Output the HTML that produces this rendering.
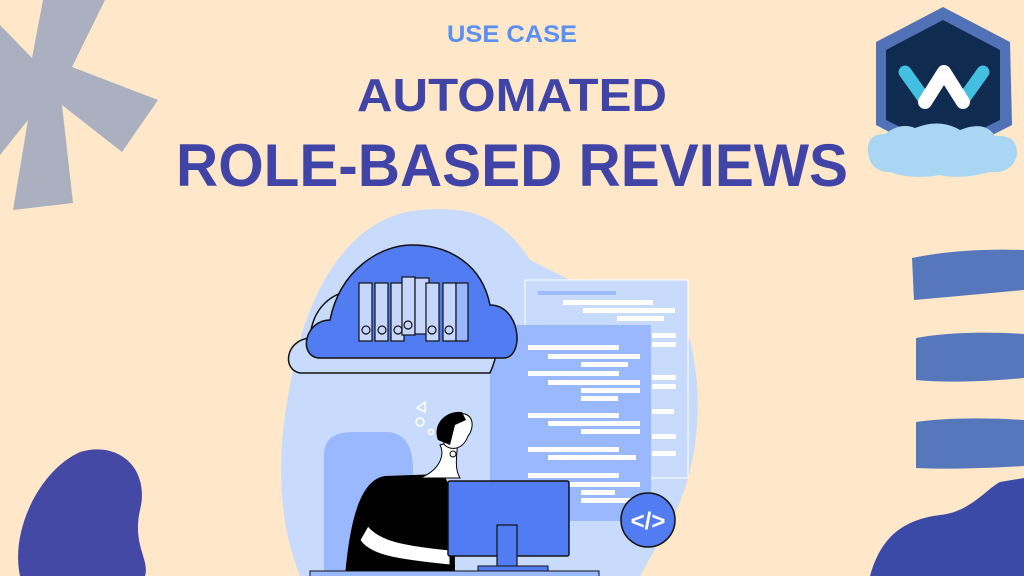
<!DOCTYPE html>
<html><head><style>
html,body{margin:0;padding:0;background:#fee8c9;}
svg{display:block}
text{font-family:"Liberation Sans",sans-serif;font-weight:bold}
</style></head><body>
<svg width="1024" height="576" viewBox="0 0 1024 576" xmlns="http://www.w3.org/2000/svg">
<rect width="1024" height="576" fill="#fee8c9"/>
<!-- asterisk -->
<polygon points="43,0 105,0 72,67 158,100 122,152 62,105 73,203 13,210 28,120 0,155 0,25 32,58" fill="#abb0c1"/>
<!-- right stripes -->
<g fill="#5677bc">
<path d="M912,258 Q960,248 1024,250 L1024,290 Q960,296 914,300 Z"/>
<path d="M916,338 Q960,330 1024,334 L1024,378 Q960,384 916,380 Z"/>
<path d="M916,422 Q960,416 1024,420 L1024,466 Q960,470 916,468 Z"/>
</g>
<!-- bottom blobs -->
<path d="M20,576 C10,530 40,470 80,452 C120,440 150,470 140,510 C132,545 150,560 145,576 Z" fill="#4549a6"/>
<path d="M870,576 C880,540 900,520 940,515 C970,512 985,490 1000,482 L1024,478 L1024,576 Z" fill="#3a4aa6"/>
<!-- title -->
<text x="512" y="42" font-size="24" fill="#5b8ff0" text-anchor="middle" textLength="130" lengthAdjust="spacingAndGlyphs">USE CASE</text>
<text x="512" y="111" font-size="46" fill="#3f44a6" text-anchor="middle" textLength="310" lengthAdjust="spacingAndGlyphs">AUTOMATED</text>
<text x="512" y="186" font-size="60" fill="#3f44a6" text-anchor="middle" textLength="672" lengthAdjust="spacingAndGlyphs">ROLE-BASED REVIEWS</text>
<!-- logo -->
<polygon points="943,7 1010,42 1012,125 943,160 876,125 876,42" fill="#5272b8"/>
<polygon points="943,20 1000,50 1000,120 943,148 886,120 886,50" fill="#0f2b50"/>
<path d="M868,152 Q866,134 885,134 Q900,122 915,128 Q940,118 960,130 Q985,120 995,136 Q1018,134 1017,155 Q1012,174 990,172 Q960,180 940,175 Q910,180 890,172 Q870,172 868,152Z" fill="#a9d6f3"/>
<path d="M905,72 L925,100" stroke="#43c0e0" stroke-width="13" stroke-linecap="round"/>
<path d="M983,72 L963,100" stroke="#43c0e0" stroke-width="13" stroke-linecap="round"/>
<path d="M925,102 L944,72 L963,102" stroke="#fff" stroke-width="14" stroke-linecap="round" stroke-linejoin="round" fill="none"/>
<!-- illustration blob -->
<path d="M300,576 C270,500 280,420 300,340 C320,270 360,215 420,210 C470,206 500,215 530,260 L690,340 C705,400 700,480 660,540 L640,576 Z" fill="#c9dbfd"/>
<!-- code panels -->
<rect x="525" y="280" width="163" height="198" fill="#c9dbfd" stroke="#fff" stroke-width="1"/>
<g fill="#fff"><rect x="563" y="300" width="90" height="5"/><rect x="583" y="308" width="92" height="5"/><rect x="617" y="316" width="47" height="5"/></g>
<rect x="538" y="291" width="78" height="4" fill="#9dbcfd"/>
<rect x="490" y="325" width="161" height="196" fill="#99b8fd"/>
<g fill="#fff">
<rect x="528" y="345" width="91" height="5"/><rect x="548" y="354" width="92" height="5"/><rect x="581" y="362" width="47" height="5"/>
<rect x="528" y="371" width="91" height="5"/><rect x="548" y="380" width="92" height="5"/><rect x="581" y="388" width="59" height="5"/><rect x="581" y="396" width="37" height="5"/>
<rect x="528" y="413" width="91" height="5"/><rect x="548" y="421" width="92" height="5"/><rect x="581" y="429" width="59" height="5"/>
<rect x="528" y="447" width="91" height="5"/><rect x="548" y="455" width="88" height="5"/>
<rect x="528" y="473" width="91" height="5"/><rect x="548" y="482" width="92" height="5"/><rect x="581" y="490" width="34" height="5"/><rect x="581" y="498" width="59" height="5"/>
<rect x="652" y="333" width="24" height="5"/><rect x="652" y="342" width="24" height="5"/><rect x="652" y="375" width="24" height="5"/><rect x="652" y="384" width="24" height="5"/><rect x="652" y="409" width="22" height="5"/><rect x="652" y="434" width="24" height="5"/><rect x="652" y="451" width="24" height="5"/>
</g>
<!-- cloud -->
<path d="M300,373 C282,370 285,340 310,338 C312,310 330,290 360,290 C380,260 440,260 470,290 C500,300 505,340 490,373 Z" fill="#c9dbfd" stroke="#111" stroke-width="1.5"/>
<path d="M318,358 C298,355 305,320 330,320 C340,270 380,245 412,245 C450,245 482,265 490,305 C520,305 525,355 505,358 Z" fill="#527cf2" stroke="#111" stroke-width="1.5"/>
<g fill="#c6d6fd" stroke="#111" stroke-width="1.2">
<rect x="359" y="283" width="13" height="58"/><rect x="375" y="283" width="13" height="58"/><rect x="391" y="283" width="13" height="58"/>
<rect x="402" y="277" width="13" height="58"/><rect x="415" y="278" width="14" height="56"/>
<rect x="426" y="283" width="13" height="58"/><rect x="443" y="283" width="13" height="58"/>
</g>
<rect x="456" y="283" width="12" height="58" fill="#99b8fd" stroke="#111" stroke-width="1.2"/>
<g fill="none" stroke="#111" stroke-width="1.2"><circle cx="366" cy="330" r="4"/><circle cx="382" cy="330" r="4"/><circle cx="398" cy="330" r="4"/><circle cx="408" cy="325" r="4"/><circle cx="432" cy="330" r="4"/><circle cx="449" cy="330" r="4"/></g>
<!-- thought -->
<g fill="none" stroke="#fff" stroke-width="1.5"><path d="M425,402 L417,408 L425,412 Z"/><circle cx="420" cy="422" r="4"/><circle cx="431" cy="432" r="2.5"/></g>
<!-- chair -->
<path d="M324,576 L324,455 C324,435 340,432 355,432 L385,432 C400,432 413,440 413,470 L413,576 Z" fill="#99b8fd"/>
<!-- person -->
<path d="M345,576 C350,520 360,480 385,476 L440,474 C450,476 455,500 455,576 Z" fill="#000"/>
<path d="M420,478 C440,470 445,455 440,445 L458,440 C456,460 455,470 460,478Z" fill="#fff" stroke="#000"/>
<path d="M442,430 C440,420 455,412 465,414 C476,418 472,432 468,436 C462,452 448,450 444,444Z" fill="#fff" stroke="#000"/>
<path d="M438,440 C432,425 445,410 462,412 L466,420 L455,425 L450,445 Z" fill="#000"/>
<circle cx="453" cy="454" r="3" fill="none" stroke="#000"/>
<path d="M368,526 C380,540 400,545 450,550 L450,565 C400,560 370,556 360,540Z" fill="#fff" stroke="#000"/>
<!-- monitor -->
<rect x="448" y="481" width="121" height="75" rx="2" fill="#527cf2" stroke="#111" stroke-width="1.5"/>
<rect x="497" y="525" width="20" height="42" fill="#527cf2" stroke="#111" stroke-width="1.2"/>
<rect x="478" y="566" width="70" height="6" fill="#527cf2" stroke="#111"/>
<rect x="310" y="571" width="289" height="8" fill="#99b8fd" stroke="#111"/>
<!-- code icon -->
<circle cx="648" cy="520" r="27" fill="#527cf2" stroke="#111" stroke-width="1.5"/>
<text x="648" y="529" font-size="24" fill="#fff" text-anchor="middle">&lt;/&gt;</text>
</svg>
</body></html>
